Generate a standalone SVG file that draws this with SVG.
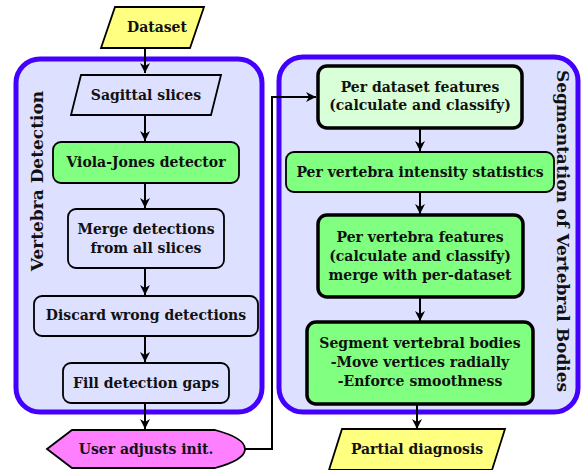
<svg xmlns="http://www.w3.org/2000/svg" width="581" height="470" viewBox="0 0 581 470">
<defs>
<marker id="ah" viewBox="0 0 10 10" refX="10" refY="5" markerWidth="10" markerHeight="10" markerUnits="userSpaceOnUse" orient="auto">
<path d="M0,0 L10,5 L0,10 L3,5 z" fill="#000"/>
</marker>
<style>
text{font-family:"DejaVu Serif","Liberation Serif",serif;font-weight:bold;font-size:14px;fill:#111;text-anchor:middle;dominant-baseline:central}
.title{font-size:17px}
.cont{fill:#dde0ff;stroke:#4400ff;stroke-width:5}
.thin{stroke:#000;stroke-width:1.8}
.thick{stroke:#000;stroke-width:3.5}
.lav{fill:#dde0ff}
.green{fill:#80ff80}
.lgreen{fill:#d8ffd8}
.yellow{fill:#ffff80}
.pink{fill:#ff80ff}
.conn{fill:none;stroke:#000;stroke-width:2;marker-end:url(#ah)}
</style>
</defs>
<g id="containers">
<rect id="detection" class="cont" x="16" y="59" width="246" height="353" rx="24"/>
<rect id="segmentation" class="cont" x="279" y="57" width="299" height="355" rx="24"/>
<text class="title" transform="translate(37,181) rotate(-90)">Vertebra Detection</text>
<text class="title" transform="translate(563,231) rotate(90)">Segmentation of Vertebral Bodies</text>
</g>
<g id="connectors">
<line class="conn" x1="145" y1="48" x2="145" y2="73"/>
<line class="conn" x1="145" y1="115" x2="145" y2="141"/>
<line class="conn" x1="145" y1="183" x2="145" y2="208"/>
<line class="conn" x1="145" y1="268" x2="145" y2="295"/>
<line class="conn" x1="145" y1="336" x2="145" y2="362"/>
<line class="conn" x1="145" y1="403" x2="145" y2="429"/>
<polyline class="conn" points="245,449 272,449 272,97 316,97"/>
<line class="conn" x1="420" y1="128" x2="420" y2="151"/>
<line class="conn" x1="420" y1="192" x2="420" y2="214"/>
<line class="conn" x1="420" y1="297" x2="420" y2="321"/>
<line class="conn" x1="417" y1="404" x2="417" y2="429"/>
</g>
<g id="dataset">
<polygon class="yellow thin" points="115,7 204,7 190,48 101,48"/>
<text x="157" y="27">Dataset</text>
</g>
<g id="sagittal">
<polygon class="lav thin" points="81,75 221,75 211,115 71,115"/>
<text x="146" y="95">Sagittal slices</text>
</g>
<g id="violajones">
<rect class="green thin" x="53" y="142" width="186" height="41" rx="8"/>
<text x="146" y="162">Viola-Jones detector</text>
</g>
<g id="merge">
<rect class="lav thin" x="68" y="209" width="156" height="59" rx="8"/>
<text x="146" y="229">Merge detections</text>
<text x="146" y="248">from all slices</text>
</g>
<g id="discard">
<rect class="lav thin" x="34" y="296" width="224" height="40" rx="8"/>
<text x="146" y="315">Discard wrong detections</text>
</g>
<g id="fillgaps">
<rect class="lav thin" x="63" y="363" width="166" height="40" rx="8"/>
<text x="146" y="383">Fill detection gaps</text>
</g>
<g id="useradjusts">
<path class="pink thin" d="M47,449 L72,430 L215,430 Q245,438 245,449 Q245,460 215,468 L72,468 Z"/>
<text x="146" y="449">User adjusts init.</text>
</g>
<g id="perdataset">
<rect class="lgreen thick" x="318" y="66" width="204" height="62" rx="9"/>
<text x="420" y="87">Per dataset features</text>
<text x="420" y="105">(calculate and classify)</text>
</g>
<g id="intensity">
<rect class="green thin" x="286" y="152" width="268" height="40" rx="8"/>
<text x="420" y="172">Per vertebra intensity statistics</text>
</g>
<g id="pervertebra">
<rect class="green thick" x="318" y="215" width="205" height="82" rx="9"/>
<text x="420" y="237">Per vertebra features</text>
<text x="420" y="256">(calculate and classify)</text>
<text x="420" y="275">merge with per-dataset</text>
</g>
<g id="segment">
<rect class="green thick" x="307" y="322" width="226" height="82" rx="9"/>
<text x="420" y="343">Segment vertebral bodies</text>
<text x="420" y="362">-Move vertices radially</text>
<text x="420" y="381">-Enforce smoothness</text>
</g>
<g id="partial">
<polygon class="yellow thin" points="342,429 505,429 492,470 329,470"/>
<text x="417" y="449">Partial diagnosis</text>
</g>
</svg>
